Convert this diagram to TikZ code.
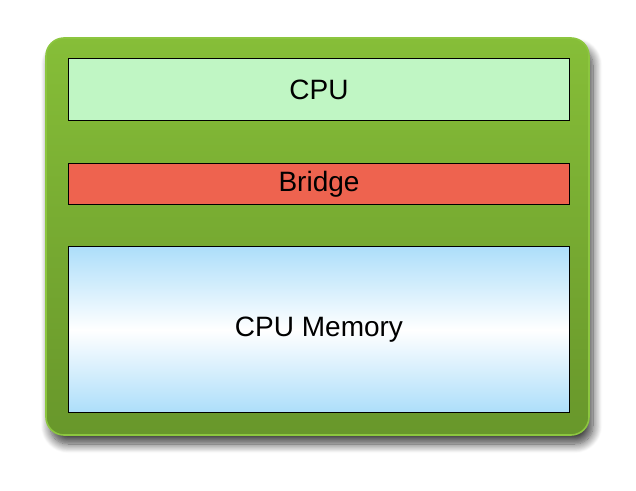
\documentclass[tikz,border=0pt]{standalone}
\usepackage{fontspec}
\setmainfont{Liberation Sans}
\usepackage{tikz}
\usetikzlibrary{shadows.blur}

\definecolor{boardtop}{RGB}{134,190,56}
\definecolor{boardbot}{RGB}{104,151,43}
\definecolor{boardrim}{RGB}{140,198,63}
\definecolor{cpugreen}{RGB}{192,246,196}
\definecolor{bridgered}{RGB}{238,99,79}
\definecolor{memblue}{RGB}{172,222,250}

\tikzset{
    unit/.style={draw=black,line width=1.8pt,minimum width=501pt,inner sep=0pt,font=\fontsize{28}{33}\selectfont}
}

\begin{document}
\begin{tikzpicture}[x=1pt,y=-1pt]
    \useasboundingbox (0,0) rectangle (636,490);

    % Board
    \node[draw=boardrim,line width=1.6pt,rounded corners=18pt,top color=boardtop,bottom color=boardbot,
          minimum width=543pt,minimum height=397pt,inner sep=0pt,
          blur shadow={shadow xshift=4pt,shadow yshift=-9pt,shadow blur steps=12,shadow blur radius=9pt,shadow opacity=75}]
        (board) at (317.5,236.5) {};

    % Units
    \node[unit,fill=cpugreen,minimum height=62pt] (cpu) at (319,89.5) {CPU};
    \node[unit,fill=bridgered,minimum height=41pt] (bridge) at (319,184) {Bridge};
    \node[unit,top color=memblue,bottom color=memblue,middle color=white,minimum height=166pt] (mem) at (319,329.5) {CPU Memory};
\end{tikzpicture}
\end{document}
